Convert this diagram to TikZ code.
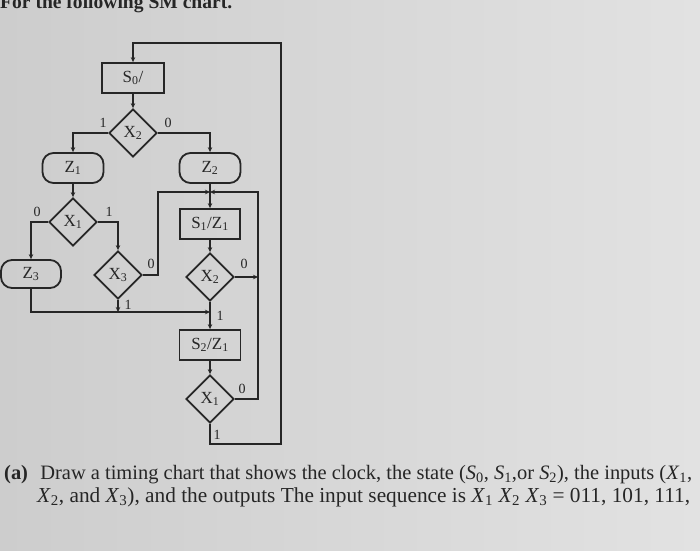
\documentclass[tikz,border=0pt]{standalone}
\usepackage{fontspec}
\setmainfont{Liberation Serif}
\usetikzlibrary{shapes.geometric,arrows.meta,calc}
\definecolor{ink}{HTML}{262626}
\definecolor{paperL}{HTML}{CDCDCD}
\definecolor{paperR}{HTML}{E2E2E2}
\newcommand{\sub}[1]{\textsubscript{#1}}
\begin{document}
\begin{tikzpicture}[x=1pt,y=-1pt,
  every node/.style={text=ink},
  statebox/.style={draw=ink,line width=1.8pt,minimum width=62pt,minimum height=30pt,inner sep=0pt,font=\fontsize{17}{17}\selectfont},
  condbox/.style={draw=ink,line width=1.8pt,rounded corners=11pt,minimum width=61pt,minimum height=30pt,inner sep=0pt,font=\fontsize{17}{17}\selectfont},
  decbox/.style={diamond,draw=ink,line width=1.8pt,minimum width=48pt,minimum height=48pt,inner sep=0pt,font=\fontsize{17}{17}\selectfont},
  link/.style={draw=ink,line width=1.2pt},
  arr/.style={link,-{Stealth[length=5pt,width=4.5pt]}},
  lbl/.style={font=\fontsize{14}{14}\selectfont,inner sep=0pt}
]
\useasboundingbox (0,0) rectangle (700,550);
\shade[left color=paperL,right color=paperR] (0,0) rectangle (700,550);

\begin{scope}
\clip (0,0) rectangle (700,550);
\node[anchor=base west,inner sep=0pt] (title) at (0,8) {\resizebox{232pt}{!}{\fontsize{22}{22}\selectfont\bfseries For the following SM chart.}};
\end{scope}

% nodes
\node[statebox] (s0) at (133,78) {S\sub{0}/};
\node[decbox] (xa) at (133,133) {X\sub{2}};
\node[condbox] (z1) at (73,168) {Z\sub{1}};
\node[condbox] (z2) at (210,168) {Z\sub{2}};
\node[decbox] (xb) at (73,222) {X\sub{1}};
\node[condbox,minimum width=60pt,minimum height=28pt] (z3) at (31,274) {Z\sub{3}};
\node[decbox] (xc) at (118,275) {X\sub{3}};
\node[statebox,minimum width=60pt] (s1) at (210,224) {S\sub{1}/Z\sub{1}};
\node[decbox] (xd) at (210,277) {X\sub{2}};
\node[statebox,minimum width=61pt] (s2) at (210,345) {S\sub{2}/Z\sub{1}};
\node[decbox] (xe) at (210,399) {X\sub{1}};

% junctions and corners
\coordinate (ja) at (210,192);
\coordinate (jb) at (210,312);
\coordinate (ca) at (158,192);
\coordinate (cb) at (258,192);
\coordinate (cc) at (258,399);
\coordinate (cz) at (31,312);
\coordinate (cd) at (210,444);
\coordinate (ce) at (281,444);
\coordinate (cf) at (281,43);
\coordinate (cg) at (133,43);

% connectors
\draw[arr] (s0.south) -- (xa.north);
\draw[arr] (xa.west) -| (z1.north);
\draw[arr] (xa.east) -| (z2.north);
\draw[arr] (z1.south) -- (xb.north);
\draw[arr] (xb.west) -| (z3.north);
\draw[arr] (xb.east) -| (xc.north);
\draw[arr] (xc.east) -| (ca) -- (ja);
\draw[arr] (z2.south) -- (s1.north);
\draw[arr] (xe.east) -- (cc) -- (cb) -- (ja);
\draw[arr] (s1.south) -- (xd.north);
\draw[arr] (xd.east) -- (xd.east -| cb);
\draw[arr] (xd.south) -- (s2.north);
\draw[arr] (xc.south) -- (xc.south |- jb);
\draw[arr] (z3.south) -- (cz) -- (jb);
\draw[arr] (s2.south) -- (xe.north);
\draw[arr] (xe.south) -- (cd) -- (ce) -- (cf) -- (cg) -- (s0.north);

% branch labels
\node[lbl] (la1) at (103,123) {1};
\node[lbl] (la0) at (168,123) {0};
\node[lbl] (lb0) at (37,212) {0};
\node[lbl] (lb1) at (109,212) {1};
\node[lbl] (lc0) at (151,264) {0};
\node[lbl] (lc1) at (128,305) {1};
\node[lbl] (ld0) at (244,264) {0};
\node[lbl] (ld1) at (220,316) {1};
\node[lbl] (le0) at (242,389) {0};
\node[lbl] (le1) at (217,435) {1};

% caption
\node[anchor=base west,inner sep=0pt] (cap1) at (4,479) {\resizebox{688pt}{!}{\fontsize{20}{20}\selectfont\textbf{(a)}\hspace{0.35em} Draw a timing chart that shows the clock, the state (\textit{S}\sub{0}, \textit{S}\sub{1},or \textit{S}\sub{2}), the inputs (\textit{X}\sub{1},}};
\node[anchor=base west,inner sep=0pt] (cap2) at (37,502) {\resizebox{653pt}{!}{\fontsize{20}{20}\selectfont\textit{X}\sub{2}, and \textit{X}\sub{3}), and the outputs The input sequence is \textit{X}\sub{1} \textit{X}\sub{2} \textit{X}\sub{3} = 011, 101, 111,}};
\end{tikzpicture}
\end{document}
